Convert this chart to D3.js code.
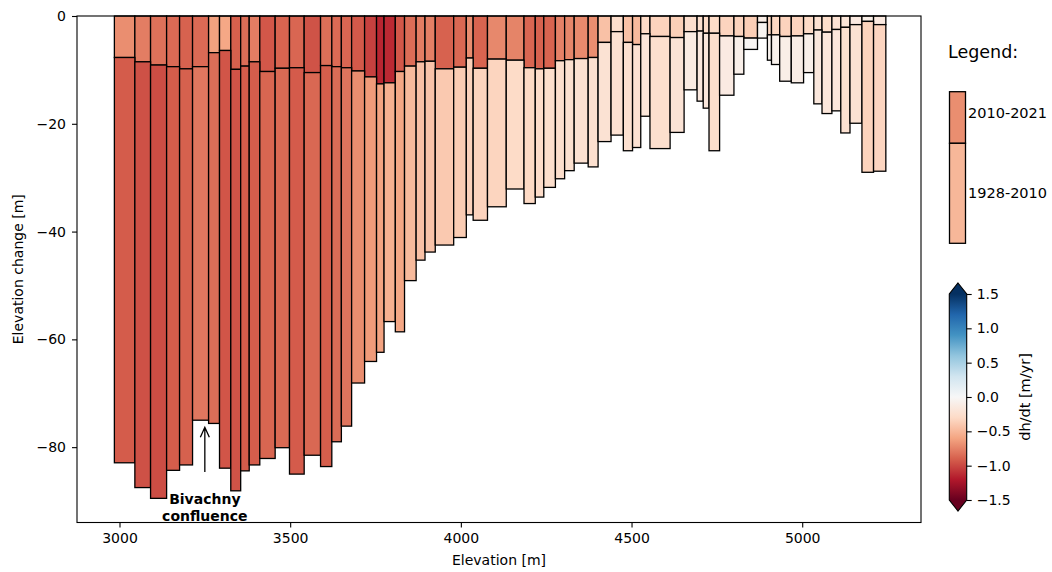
<!DOCTYPE html>
<html>
<head>
<meta charset="utf-8">
<script src="https://cdn.jsdelivr.net/npm/d3@7"></script>
<style>
  body { margin: 0; background: #fff; }
  svg { display: block; }
  text { font-family: "DejaVu Sans", sans-serif; fill: #000; }
</style>
</head>
<body>
<svg id="chart" width="1052" height="572"></svg>
<script>
// Elevation bin edges [m] (contiguous bins)
const elevationEdges = [
  2985, 3045, 3091, 3138, 3176, 3214, 3261, 3293, 3326, 3355, 3380, 3411, 3456, 3498,
  3541, 3589, 3622, 3650, 3680, 3718, 3753, 3775, 3808, 3835, 3869, 3895, 3925, 3979,
  4016, 4036, 4078, 4133, 4185, 4218, 4243, 4277, 4304, 4332, 4373, 4402, 4440, 4476,
  4503, 4527, 4554, 4613, 4654, 4692, 4710, 4727, 4758, 4800, 4829, 4869, 4898, 4910,
  4934, 4968, 5004, 5034, 5058, 5087, 5113, 5140, 5175, 5209, 5245
];

// Elevation change 2010-2021 per bin [m]
const change2010to2021 = [
  -7.7, -8.5, -9.1, -9.4, -9.8, -9.4, -6.8, -6.4, -9.9, -9.3, -8.5, -10.3, -9.7, -9.6,
  -10.5, -9.2, -9.4, -9.6, -10.2, -11.3, -12.6, -12.4, -10.3, -9.3, -8.5, -8.4, -9.8, -9.5, -7.8, -9.7,
  -8.0, -8.2, -9.6, -9.8, -9.7, -8.3, -8.1, -7.9, -7.7, -4.9, -2.9, -4.9, -5.3, -3.3, -3.8, -4.0,
  -2.9, -2.8, -3.2, -3.2, -3.7, -3.8, -4.1, -1.2, -3.5, -3.5, -3.8, -3.7, -3.3, -2.6, -3.0, -2.5, -2.1, -1.6, -1.0, -1.6
];

// Cumulative elevation change 1928-2021 per bin [m]
const change1928to2021 = [
  -82.9, -87.5, -89.5, -84.3, -83.3, -75.0, -75.6, -83.9, -88.1, -84.4, -83.3, -82.1, -80.1, -85.0,
  -81.5, -83.6, -79.0, -76.1, -68.1, -64.1, -62.4, -56.7, -58.6, -49.1, -45.3, -43.8, -42.5, -41.1, -36.9, -37.9,
  -35.4, -32.1, -34.8, -33.6, -31.8, -30.2, -28.7, -27.3, -28.0, -23.3, -22.1, -25.0, -24.4, -18.6, -24.6, -21.6,
  -13.7, -15.8, -17.1, -25.0, -14.7, -10.8, -6.2, -4.1, -8.2, -9.0, -12.1, -12.4, -10.5, -16.3, -18.1, -17.6, -21.7, -19.9, -29.0, -28.8
];

// Period lengths [yr]
const yearsRecent = 2021 - 2010;
const yearsEarly = 2010 - 1928;

const xTicks = [3000, 3500, 4000, 4500, 5000];
const yTicks = [0, -20, -40, -60, -80];
const colorbarTicks = [1.5, 1.0, 0.5, 0.0, -0.5, -1.0, -1.5];
const legendLabels = ["2010-2021", "1928-2010"];
const legendRates = [-0.7, -0.5];

// RdBu diverging palette (ColorBrewer, 11 classes)
const rdbu = ["#67001f", "#b2182b", "#d6604d", "#f4a582", "#fddbc7", "#f7f7f7",
              "#d1e5f0", "#92c5de", "#4393c3", "#2166ac", "#053061"];

// Annotation
const noteLines = ["Bivachny", "confluence"];
const noteX = 3250, noteTip = -76.3, noteTail = -84.6, noteText = -90.6;

const svg = d3.select("#chart");
const plot = { left: 77, right: 921, top: 16, bottom: 522.5 };

const x = d3.scaleLinear().domain([2875.5, 5348]).range([plot.left, plot.right]);
const y = d3.scaleLinear().domain([-93.98, 0]).range([plot.bottom, plot.top]);
const color = d3.scaleLinear()
  .domain(d3.range(11).map(i => -1.5 + 0.3 * i))
  .range(rdbu)
  .interpolate(d3.interpolateRgb)
  .clamp(true);

// Build stacked segments
const recentSegs = change2010to2021.map((d, i) => ({
  x0: elevationEdges[i], x1: elevationEdges[i + 1], top: 0, bottom: d, rate: d / yearsRecent
}));
const earlySegs = change1928to2021.map((d, i) => ({
  x0: elevationEdges[i], x1: elevationEdges[i + 1], top: change2010to2021[i], bottom: d,
  rate: (d - change2010to2021[i]) / yearsEarly
}));

const bars = svg.append("g");
[recentSegs, earlySegs].forEach(segs => {
  bars.append("g").selectAll("rect").data(segs).join("rect")
    .attr("x", d => x(d.x0))
    .attr("width", d => x(d.x1) - x(d.x0))
    .attr("y", d => y(d.top))
    .attr("height", d => y(d.bottom) - y(d.top))
    .attr("fill", d => color(d.rate))
    .attr("stroke", "#000")
    .attr("stroke-width", 1.3);
});

// Axes
const xAxis = svg.append("g")
  .attr("transform", `translate(0,${plot.bottom})`)
  .call(d3.axisBottom(x).tickValues(xTicks).tickFormat(d3.format("d")).tickSize(5).tickPadding(6));
const yAxis = svg.append("g")
  .attr("transform", `translate(${plot.left},0)`)
  .call(d3.axisLeft(y).tickValues(yTicks).tickFormat(d3.format("d")).tickSize(5).tickPadding(6));
[xAxis, yAxis].forEach(a => {
  a.select(".domain").remove();
  a.selectAll(".tick line").attr("stroke", "#000").attr("stroke-width", 1.1);
  a.selectAll(".tick text").attr("font-size", 14).attr("font-family", "DejaVu Sans").attr("fill", "#000");
});

svg.append("rect")
  .attr("x", plot.left).attr("y", plot.top)
  .attr("width", plot.right - plot.left).attr("height", plot.bottom - plot.top)
  .attr("fill", "none").attr("stroke", "#000").attr("stroke-width", 1.1);

svg.append("text")
  .attr("x", (plot.left + plot.right) / 2).attr("y", 565)
  .attr("text-anchor", "middle").attr("font-size", 14)
  .text("Elevation [m]");
svg.append("text")
  .attr("transform", `translate(23,${(plot.top + plot.bottom) / 2}) rotate(-90)`)
  .attr("text-anchor", "middle").attr("font-size", 14)
  .text("Elevation change [m]");

// Annotation arrow and label
const ax = x(noteX), tipY = y(noteTip), tailY = y(noteTail);
svg.append("path")
  .attr("d", `M${ax},${tailY}L${ax},${tipY}M${ax - 4.5},${tipY + 10}L${ax},${tipY}L${ax + 4.5},${tipY + 10}`)
  .attr("fill", "none").attr("stroke", "#000").attr("stroke-width", 1.3);
svg.append("text")
  .attr("x", ax).attr("y", y(noteText))
  .attr("text-anchor", "middle").attr("font-size", 14).attr("font-weight", "bold")
  .selectAll("tspan").data(noteLines).join("tspan")
  .attr("x", ax).attr("dy", (d, i) => i === 0 ? 0 : 16.8)
  .text(d => d);

// Legend
svg.append("text").attr("x", 948).attr("y", 58).attr("font-size", 17.5).text("Legend:");
const lg = { x: 949.5, w: 16, top: 91.7, mid: 143.3, bottom: 243.3 };
svg.append("rect").attr("x", lg.x).attr("y", lg.top).attr("width", lg.w).attr("height", lg.mid - lg.top)
  .attr("fill", color(legendRates[0])).attr("stroke", "#000").attr("stroke-width", 1.3);
svg.append("rect").attr("x", lg.x).attr("y", lg.mid).attr("width", lg.w).attr("height", lg.bottom - lg.mid)
  .attr("fill", color(legendRates[1])).attr("stroke", "#000").attr("stroke-width", 1.3);
svg.append("text").attr("x", 968).attr("y", 118).attr("font-size", 14.5).text(legendLabels[0]);
svg.append("text").attr("x", 968).attr("y", 198).attr("font-size", 14.5).text(legendLabels[1]);

// Colorbar with extension triangles
const cb = { x0: 949.3, x1: 966.7, top: 294, bottom: 500, ext: 11 };
const cy = d3.scaleLinear().domain([-1.5, 1.5]).range([cb.bottom, cb.top]);
const defs = svg.append("defs");
const grad = defs.append("linearGradient").attr("id", "cbgrad")
  .attr("x1", 0).attr("y1", 1).attr("x2", 0).attr("y2", 0);
grad.selectAll("stop").data(rdbu).join("stop")
  .attr("offset", (d, i) => i / (rdbu.length - 1))
  .attr("stop-color", d => d);
const cmx = (cb.x0 + cb.x1) / 2;
svg.append("rect").attr("x", cb.x0).attr("y", cb.top).attr("width", cb.x1 - cb.x0)
  .attr("height", cb.bottom - cb.top).attr("fill", "url(#cbgrad)");
svg.append("path").attr("d", `M${cb.x0},${cb.top}L${cmx},${cb.top - cb.ext}L${cb.x1},${cb.top}Z`)
  .attr("fill", rdbu[10]);
svg.append("path").attr("d", `M${cb.x0},${cb.bottom}L${cmx},${cb.bottom + cb.ext}L${cb.x1},${cb.bottom}Z`)
  .attr("fill", rdbu[0]);
svg.append("path")
  .attr("d", `M${cmx},${cb.top - cb.ext}L${cb.x1},${cb.top}L${cb.x1},${cb.bottom}L${cmx},${cb.bottom + cb.ext}L${cb.x0},${cb.bottom}L${cb.x0},${cb.top}Z`)
  .attr("fill", "none").attr("stroke", "#000").attr("stroke-width", 1.1);
const cbAxis = svg.append("g").attr("transform", `translate(${cb.x1},0)`)
  .call(d3.axisRight(cy).tickValues(colorbarTicks).tickFormat(d3.format(".1f")).tickSize(5).tickPadding(5));
cbAxis.select(".domain").remove();
cbAxis.selectAll(".tick line").attr("stroke", "#000").attr("stroke-width", 1.1);
cbAxis.selectAll(".tick text").attr("font-size", 14).attr("font-family", "DejaVu Sans").attr("fill", "#000");
svg.append("text")
  .attr("transform", `translate(1030,${(cb.top + cb.bottom) / 2}) rotate(-90)`)
  .attr("text-anchor", "middle").attr("font-size", 14.5)
  .text("dh/dt [m/yr]");
</script>
</body>
</html>
